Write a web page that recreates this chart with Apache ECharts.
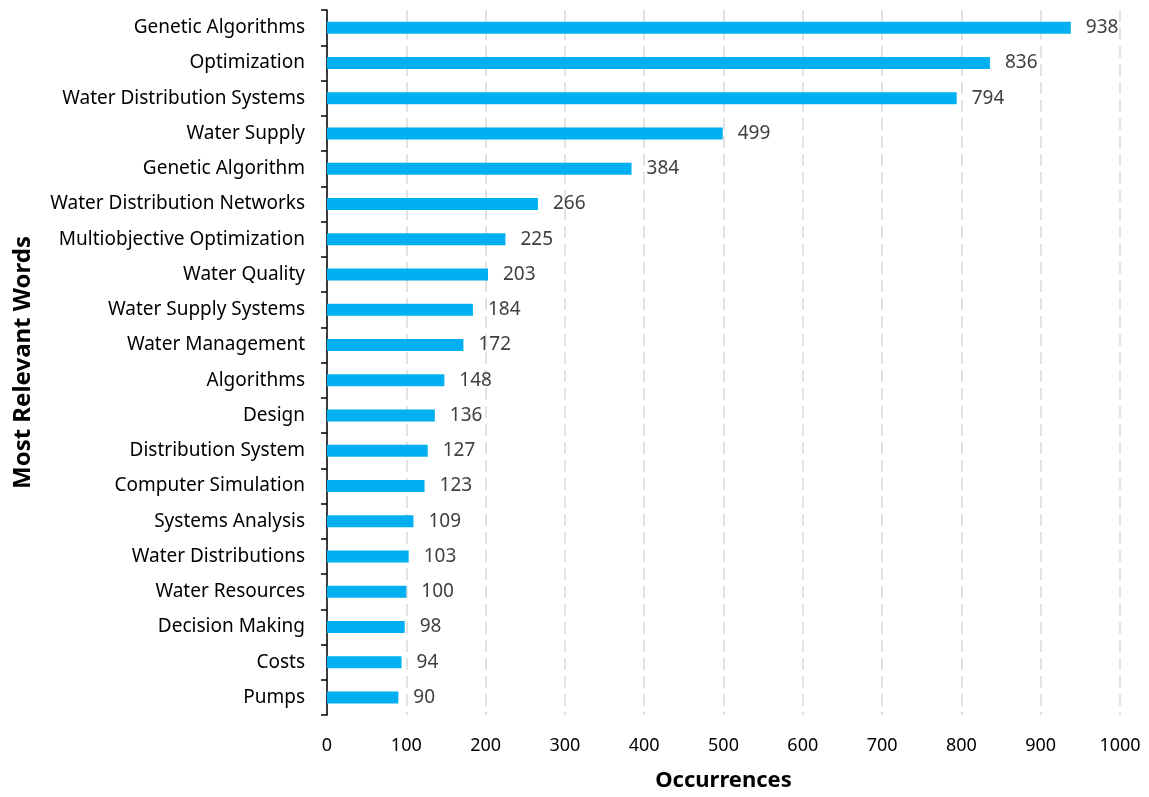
<!DOCTYPE html>
<html>
<head>
<meta charset="utf-8">
<script src="https://cdn.jsdelivr.net/npm/echarts@6/dist/echarts.min.js"></script>
<style>
  html, body { margin: 0; padding: 0; background: #fff; }
  #chart { width: 1149px; height: 797px; }
</style>
</head>
<body>
<div id="chart"></div>
<script>
const words = [
  'Genetic Algorithms', 'Optimization', 'Water Distribution Systems', 'Water Supply',
  'Genetic Algorithm', 'Water Distribution Networks', 'Multiobjective Optimization',
  'Water Quality', 'Water Supply Systems', 'Water Management', 'Algorithms', 'Design',
  'Distribution System', 'Computer Simulation', 'Systems Analysis', 'Water Distributions',
  'Water Resources', 'Decision Making', 'Costs', 'Pumps'
]
const occurrences = [938, 836, 794, 499, 384, 266, 225, 203, 184, 172, 148, 136, 127, 123, 109, 103, 100, 98, 94, 90]

const chart = echarts.init(document.getElementById('chart'))
const font = '"Noto Sans", sans-serif'

chart.setOption({
  animation: false,
  grid: { left: 327, right: 29, top: 10, bottom: 82 },
  xAxis: {
    type: 'value',
    min: 0,
    max: 1000,
    interval: 100,
    name: 'Occurrences',
    nameLocation: 'middle',
    nameGap: 55,
    nameTextStyle: { fontFamily: font, fontSize: 22, fontWeight: 'bold', color: '#000' },
    axisLine: { show: false },
    axisTick: { show: false },
    axisLabel: { fontFamily: font, fontSize: 18, color: '#000', margin: 22, formatter: v => String(v) },
    splitLine: { show: true, lineStyle: { color: '#d9d9d9', type: [12, 6], width: 1.5 } }
  },
  yAxis: {
    type: 'category',
    data: words,
    inverse: true,
    name: 'Most Relevant Words',
    nameLocation: 'middle',
    nameGap: 292,
    nameTextStyle: { fontFamily: font, fontSize: 24, fontWeight: 'bold', color: '#000' },
    axisLine: { show: true, lineStyle: { color: '#000', width: 1.5 } },
    axisTick: { show: true, length: 6, lineStyle: { color: '#000', width: 1.5 } },
    axisLabel: { fontFamily: font, fontSize: 19, color: '#000', margin: 22 }
  },
  series: [{
    type: 'bar',
    data: occurrences,
    barWidth: 12,
    itemStyle: { color: '#00b0f0' },
    label: {
      show: true,
      position: 'right',
      distance: 15,
      fontFamily: font,
      fontSize: 19,
      color: '#404040'
    }
  }]
})
</script>
</body>
</html>
